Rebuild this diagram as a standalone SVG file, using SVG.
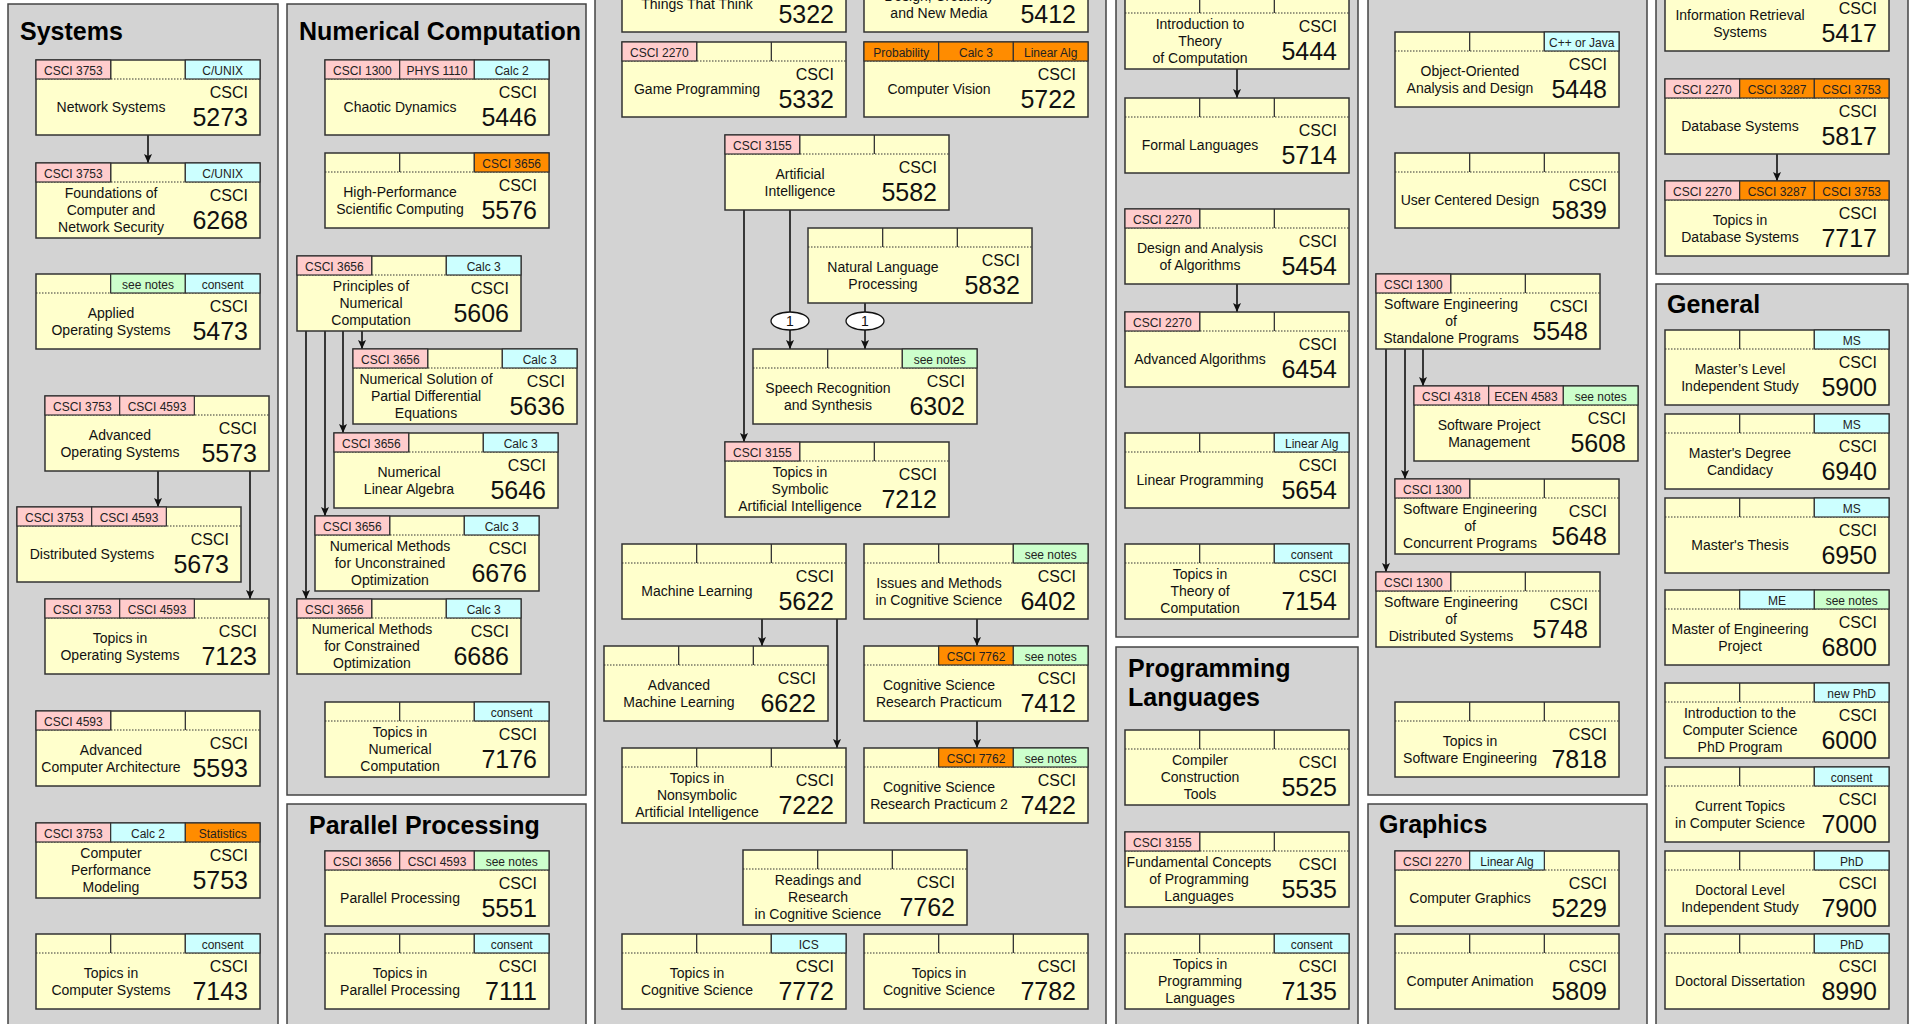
<svg xmlns="http://www.w3.org/2000/svg" xmlns:xlink="http://www.w3.org/1999/xlink" width="1909" height="1024" viewBox="0 0 1909 1024">
<style>
text{font-family:"Liberation Sans",Arial,sans-serif;fill:#111}
.pnl{fill:#d3d3d3;stroke:#444;stroke-width:1.5}
.bx{fill:#ffffcc;stroke:#333;stroke-width:1.5}
.dot{stroke:#333;stroke-width:1;stroke-dasharray:1.5 1.5}
.dv{stroke:#333;stroke-width:1.3}
.pk{fill:#ffcccc;stroke:#333;stroke-width:1.2}
.cy{fill:#ccffff;stroke:#333;stroke-width:1.2}
.gr{fill:#ccffcc;stroke:#333;stroke-width:1.2}
.or{fill:#ff8c00;stroke:#333;stroke-width:1.2}
.h{font-size:12px;text-anchor:middle;fill:#222}
.t{font-size:14px;text-anchor:middle}
.c{font-size:16px;text-anchor:end}
.n{font-size:25px;text-anchor:end}
.pt{font-size:25px;font-weight:bold;fill:#000}
.e{stroke:#111;stroke-width:1.6;fill:none}
.lb{fill:#fff;stroke:#111;stroke-width:1.3}
.lt{font-size:14px;text-anchor:middle}
</style>
<defs>
<marker id="ah" markerUnits="userSpaceOnUse" markerWidth="9" markerHeight="8" refX="9" refY="4" orient="auto">
<path d="M0,0 L9,4 L0,8 L2,4 z" fill="#111"/>
</marker>
<g id="box">
<rect width="224" height="75" class="bx"/>
<line x1="0" y1="19" x2="224" y2="19" class="dot"/>
<line x1="74.67" y1="0" x2="74.67" y2="19" class="dv"/>
<line x1="149.33" y1="0" x2="149.33" y2="19" class="dv"/>
</g>
</defs>
<rect width="1909" height="1024" fill="#fff"/>

<g id="panels">
<rect class="pnl" x="8" y="4" width="270" height="1030"/>
<rect class="pnl" x="287" y="4" width="299" height="791"/>
<rect class="pnl" x="287" y="804" width="299" height="230"/>
<rect class="pnl" x="595" y="-10" width="511" height="1044"/>
<rect class="pnl" x="1116" y="-10" width="242" height="647"/>
<rect class="pnl" x="1116" y="647" width="242" height="387"/>
<rect class="pnl" x="1368" y="-10" width="279" height="805"/>
<rect class="pnl" x="1368" y="804" width="279" height="230"/>
<rect class="pnl" x="1656" y="-10" width="252" height="284"/>
<rect class="pnl" x="1656" y="284" width="252" height="750"/>
<text class="pt" x="20" y="40">Systems</text>
<text class="pt" x="299" y="40">Numerical Computation</text>
<text class="pt" x="309" y="834">Parallel Processing</text>
<text class="pt" x="1128" y="677">Programming</text>
<text class="pt" x="1128" y="706">Languages</text>
<text class="pt" x="1379" y="833">Graphics</text>
<text class="pt" x="1667" y="313">General</text>
</g>

<g id="connectors">
<line class="e" x1="148" y1="135" x2="148" y2="163" marker-end="url(#ah)"/>
<line class="e" x1="158" y1="470" x2="158" y2="507" marker-end="url(#ah)"/>
<line class="e" x1="250" y1="470" x2="250" y2="599" marker-end="url(#ah)"/>
<line class="e" x1="362" y1="330" x2="362" y2="349" marker-end="url(#ah)"/>
<line class="e" x1="343" y1="330" x2="343" y2="433" marker-end="url(#ah)"/>
<line class="e" x1="325" y1="330" x2="325" y2="516" marker-end="url(#ah)"/>
<line class="e" x1="306" y1="330" x2="306" y2="599" marker-end="url(#ah)"/>
<line class="e" x1="744" y1="209" x2="744" y2="442" marker-end="url(#ah)"/>
<line class="e" x1="790" y1="209" x2="790" y2="349" marker-end="url(#ah)"/>
<line class="e" x1="865" y1="302" x2="865" y2="349" marker-end="url(#ah)"/>
<ellipse class="lb" cx="790" cy="321" rx="19" ry="9"/>
<text class="lt" x="790" y="326">1</text>
<ellipse class="lb" cx="865" cy="321" rx="19" ry="9"/>
<text class="lt" x="865" y="326">1</text>
<line class="e" x1="762" y1="618" x2="762" y2="646" marker-end="url(#ah)"/>
<line class="e" x1="837" y1="618" x2="837" y2="748" marker-end="url(#ah)"/>
<line class="e" x1="977" y1="618" x2="977" y2="646" marker-end="url(#ah)"/>
<line class="e" x1="977" y1="721" x2="977" y2="748" marker-end="url(#ah)"/>
<line class="e" x1="1237" y1="69" x2="1237" y2="98" marker-end="url(#ah)"/>
<line class="e" x1="1237" y1="284" x2="1237" y2="312" marker-end="url(#ah)"/>
<line class="e" x1="1423" y1="349" x2="1423" y2="386" marker-end="url(#ah)"/>
<line class="e" x1="1405" y1="349" x2="1405" y2="479" marker-end="url(#ah)"/>
<line class="e" x1="1386" y1="349" x2="1386" y2="572" marker-end="url(#ah)"/>
<line class="e" x1="1777" y1="153" x2="1777" y2="181" marker-end="url(#ah)"/>
</g>

<!-- Systems -->
<g id="n5273" transform="translate(36,60)"><use href="#box"/>
<rect class="pk" width="74.67" height="19"/><text class="h" x="37.33" y="15">CSCI 3753</text>
<rect class="cy" x="149.33" width="74.67" height="19"/><text class="h" x="186.67" y="15">C/UNIX</text>
<text class="t" x="75" y="52">Network Systems</text><text class="c" x="212" y="38">CSCI</text><text class="n" x="212" y="66">5273</text></g>
<g id="n6268" transform="translate(36,163)"><use href="#box"/>
<rect class="pk" width="74.67" height="19"/><text class="h" x="37.33" y="15">CSCI 3753</text>
<rect class="cy" x="149.33" width="74.67" height="19"/><text class="h" x="186.67" y="15">C/UNIX</text>
<text class="t" x="75" y="35">Foundations of</text><text class="t" x="75" y="52">Computer and</text><text class="t" x="75" y="69">Network Security</text><text class="c" x="212" y="38">CSCI</text><text class="n" x="212" y="66">6268</text></g>
<g id="n5473" transform="translate(36,274)"><use href="#box"/>
<rect class="gr" x="74.67" width="74.67" height="19"/><text class="h" x="112" y="15">see notes</text>
<rect class="cy" x="149.33" width="74.67" height="19"/><text class="h" x="186.67" y="15">consent</text>
<text class="t" x="75" y="43.5">Applied</text><text class="t" x="75" y="60.5">Operating Systems</text><text class="c" x="212" y="38">CSCI</text><text class="n" x="212" y="66">5473</text></g>
<g id="n5573" transform="translate(45,396)"><use href="#box"/>
<rect class="pk" width="74.67" height="19"/><text class="h" x="37.33" y="15">CSCI 3753</text>
<rect class="pk" x="74.67" width="74.67" height="19"/><text class="h" x="112" y="15">CSCI 4593</text>
<text class="t" x="75" y="43.5">Advanced</text><text class="t" x="75" y="60.5">Operating Systems</text><text class="c" x="212" y="38">CSCI</text><text class="n" x="212" y="66">5573</text></g>
<g id="n5673" transform="translate(17,507)"><use href="#box"/>
<rect class="pk" width="74.67" height="19"/><text class="h" x="37.33" y="15">CSCI 3753</text>
<rect class="pk" x="74.67" width="74.67" height="19"/><text class="h" x="112" y="15">CSCI 4593</text>
<text class="t" x="75" y="52">Distributed Systems</text><text class="c" x="212" y="38">CSCI</text><text class="n" x="212" y="66">5673</text></g>
<g id="n7123" transform="translate(45,599)"><use href="#box"/>
<rect class="pk" width="74.67" height="19"/><text class="h" x="37.33" y="15">CSCI 3753</text>
<rect class="pk" x="74.67" width="74.67" height="19"/><text class="h" x="112" y="15">CSCI 4593</text>
<text class="t" x="75" y="43.5">Topics in</text><text class="t" x="75" y="60.5">Operating Systems</text><text class="c" x="212" y="38">CSCI</text><text class="n" x="212" y="66">7123</text></g>
<g id="n5593" transform="translate(36,711)"><use href="#box"/>
<rect class="pk" width="74.67" height="19"/><text class="h" x="37.33" y="15">CSCI 4593</text>
<text class="t" x="75" y="43.5">Advanced</text><text class="t" x="75" y="60.5">Computer Architecture</text><text class="c" x="212" y="38">CSCI</text><text class="n" x="212" y="66">5593</text></g>
<g id="n5753" transform="translate(36,823)"><use href="#box"/>
<rect class="pk" width="74.67" height="19"/><text class="h" x="37.33" y="15">CSCI 3753</text>
<rect class="cy" x="74.67" width="74.67" height="19"/><text class="h" x="112" y="15">Calc 2</text>
<rect class="or" x="149.33" width="74.67" height="19"/><text class="h" x="186.67" y="15">Statistics</text>
<text class="t" x="75" y="35">Computer</text><text class="t" x="75" y="52">Performance</text><text class="t" x="75" y="69">Modeling</text><text class="c" x="212" y="38">CSCI</text><text class="n" x="212" y="66">5753</text></g>
<g id="n7143" transform="translate(36,934)"><use href="#box"/>
<rect class="cy" x="149.33" width="74.67" height="19"/><text class="h" x="186.67" y="15">consent</text>
<text class="t" x="75" y="43.5">Topics in</text><text class="t" x="75" y="60.5">Computer Systems</text><text class="c" x="212" y="38">CSCI</text><text class="n" x="212" y="66">7143</text></g>

<!-- Numerical Computation -->
<g id="n5446" transform="translate(325,60)"><use href="#box"/>
<rect class="pk" width="74.67" height="19"/><text class="h" x="37.33" y="15">CSCI 1300</text>
<rect class="pk" x="74.67" width="74.67" height="19"/><text class="h" x="112" y="15">PHYS 1110</text>
<rect class="cy" x="149.33" width="74.67" height="19"/><text class="h" x="186.67" y="15">Calc 2</text>
<text class="t" x="75" y="52">Chaotic Dynamics</text><text class="c" x="212" y="38">CSCI</text><text class="n" x="212" y="66">5446</text></g>
<g id="n5576" transform="translate(325,153)"><use href="#box"/>
<rect class="or" x="149.33" width="74.67" height="19"/><text class="h" x="186.67" y="15">CSCI 3656</text>
<text class="t" x="75" y="43.5">High-Performance</text><text class="t" x="75" y="60.5">Scientific Computing</text><text class="c" x="212" y="38">CSCI</text><text class="n" x="212" y="66">5576</text></g>
<g id="n5606" transform="translate(297,256)"><use href="#box"/>
<rect class="pk" width="74.67" height="19"/><text class="h" x="37.33" y="15">CSCI 3656</text>
<rect class="cy" x="149.33" width="74.67" height="19"/><text class="h" x="186.67" y="15">Calc 3</text>
<text class="t" x="74" y="35">Principles of</text><text class="t" x="74" y="52">Numerical</text><text class="t" x="74" y="69">Computation</text><text class="c" x="212" y="38">CSCI</text><text class="n" x="212" y="66">5606</text></g>
<g id="n5636" transform="translate(353,349)"><use href="#box"/>
<rect class="pk" width="74.67" height="19"/><text class="h" x="37.33" y="15">CSCI 3656</text>
<rect class="cy" x="149.33" width="74.67" height="19"/><text class="h" x="186.67" y="15">Calc 3</text>
<text class="t" x="73" y="35">Numerical Solution of</text><text class="t" x="73" y="52">Partial Differential</text><text class="t" x="73" y="69">Equations</text><text class="c" x="212" y="38">CSCI</text><text class="n" x="212" y="66">5636</text></g>
<g id="n5646" transform="translate(334,433)"><use href="#box"/>
<rect class="pk" width="74.67" height="19"/><text class="h" x="37.33" y="15">CSCI 3656</text>
<rect class="cy" x="149.33" width="74.67" height="19"/><text class="h" x="186.67" y="15">Calc 3</text>
<text class="t" x="75" y="43.5">Numerical</text><text class="t" x="75" y="60.5">Linear Algebra</text><text class="c" x="212" y="38">CSCI</text><text class="n" x="212" y="66">5646</text></g>
<g id="n6676" transform="translate(315,516)"><use href="#box"/>
<rect class="pk" width="74.67" height="19"/><text class="h" x="37.33" y="15">CSCI 3656</text>
<rect class="cy" x="149.33" width="74.67" height="19"/><text class="h" x="186.67" y="15">Calc 3</text>
<text class="t" x="75" y="35">Numerical Methods</text><text class="t" x="75" y="52">for Unconstrained</text><text class="t" x="75" y="69">Optimization</text><text class="c" x="212" y="38">CSCI</text><text class="n" x="212" y="66">6676</text></g>
<g id="n6686" transform="translate(297,599)"><use href="#box"/>
<rect class="pk" width="74.67" height="19"/><text class="h" x="37.33" y="15">CSCI 3656</text>
<rect class="cy" x="149.33" width="74.67" height="19"/><text class="h" x="186.67" y="15">Calc 3</text>
<text class="t" x="75" y="35">Numerical Methods</text><text class="t" x="75" y="52">for Constrained</text><text class="t" x="75" y="69">Optimization</text><text class="c" x="212" y="38">CSCI</text><text class="n" x="212" y="66">6686</text></g>
<g id="n7176" transform="translate(325,702)"><use href="#box"/>
<rect class="cy" x="149.33" width="74.67" height="19"/><text class="h" x="186.67" y="15">consent</text>
<text class="t" x="75" y="35">Topics in</text><text class="t" x="75" y="52">Numerical</text><text class="t" x="75" y="69">Computation</text><text class="c" x="212" y="38">CSCI</text><text class="n" x="212" y="66">7176</text></g>

<!-- Parallel Processing -->
<g id="n5551" transform="translate(325,851)"><use href="#box"/>
<rect class="pk" width="74.67" height="19"/><text class="h" x="37.33" y="15">CSCI 3656</text>
<rect class="pk" x="74.67" width="74.67" height="19"/><text class="h" x="112" y="15">CSCI 4593</text>
<rect class="gr" x="149.33" width="74.67" height="19"/><text class="h" x="186.67" y="15">see notes</text>
<text class="t" x="75" y="52">Parallel Processing</text><text class="c" x="212" y="38">CSCI</text><text class="n" x="212" y="66">5551</text></g>
<g id="n7111" transform="translate(325,934)"><use href="#box"/>
<rect class="cy" x="149.33" width="74.67" height="19"/><text class="h" x="186.67" y="15">consent</text>
<text class="t" x="75" y="43.5">Topics in</text><text class="t" x="75" y="60.5">Parallel Processing</text><text class="c" x="212" y="38">CSCI</text><text class="n" x="212" y="66">7111</text></g>

<!-- Middle column -->
<g id="n5322" transform="translate(622,-43)"><use href="#box"/>
<text class="t" x="75" y="52">Things That Think</text><text class="n" x="212" y="66">5322</text></g>
<g id="n5412" transform="translate(864,-43)"><use href="#box"/>
<text class="t" x="75" y="43.5">Design, Creativity</text><text class="t" x="75" y="60.5">and New Media</text><text class="n" x="212" y="66">5412</text></g>
<g id="n5332" transform="translate(622,42)"><use href="#box"/>
<rect class="pk" width="74.67" height="19"/><text class="h" x="37.33" y="15">CSCI 2270</text>
<text class="t" x="75" y="52">Game Programming</text><text class="c" x="212" y="38">CSCI</text><text class="n" x="212" y="66">5332</text></g>
<g id="n5722" transform="translate(864,42)"><use href="#box"/>
<rect class="or" width="74.67" height="19"/><text class="h" x="37.33" y="15">Probability</text>
<rect class="or" x="74.67" width="74.67" height="19"/><text class="h" x="112" y="15">Calc 3</text>
<rect class="or" x="149.33" width="74.67" height="19"/><text class="h" x="186.67" y="15">Linear Alg</text>
<text class="t" x="75" y="52">Computer Vision</text><text class="c" x="212" y="38">CSCI</text><text class="n" x="212" y="66">5722</text></g>
<g id="n5582" transform="translate(725,135)"><use href="#box"/>
<rect class="pk" width="74.67" height="19"/><text class="h" x="37.33" y="15">CSCI 3155</text>
<text class="t" x="75" y="43.5">Artificial</text><text class="t" x="75" y="60.5">Intelligence</text><text class="c" x="212" y="38">CSCI</text><text class="n" x="212" y="66">5582</text></g>
<g id="n5832" transform="translate(808,228)"><use href="#box"/>
<text class="t" x="75" y="43.5">Natural Language</text><text class="t" x="75" y="60.5">Processing</text><text class="c" x="212" y="38">CSCI</text><text class="n" x="212" y="66">5832</text></g>
<g id="n6302" transform="translate(753,349)"><use href="#box"/>
<rect class="gr" x="149.33" width="74.67" height="19"/><text class="h" x="186.67" y="15">see notes</text>
<text class="t" x="75" y="43.5">Speech Recognition</text><text class="t" x="75" y="60.5">and Synthesis</text><text class="c" x="212" y="38">CSCI</text><text class="n" x="212" y="66">6302</text></g>
<g id="n7212" transform="translate(725,442)"><use href="#box"/>
<rect class="pk" width="74.67" height="19"/><text class="h" x="37.33" y="15">CSCI 3155</text>
<text class="t" x="75" y="35">Topics in</text><text class="t" x="75" y="52">Symbolic</text><text class="t" x="75" y="69">Artificial Intelligence</text><text class="c" x="212" y="38">CSCI</text><text class="n" x="212" y="66">7212</text></g>
<g id="n5622" transform="translate(622,544)"><use href="#box"/>
<text class="t" x="75" y="52">Machine Learning</text><text class="c" x="212" y="38">CSCI</text><text class="n" x="212" y="66">5622</text></g>
<g id="n6402" transform="translate(864,544)"><use href="#box"/>
<rect class="gr" x="149.33" width="74.67" height="19"/><text class="h" x="186.67" y="15">see notes</text>
<text class="t" x="75" y="43.5">Issues and Methods</text><text class="t" x="75" y="60.5">in Cognitive Science</text><text class="c" x="212" y="38">CSCI</text><text class="n" x="212" y="66">6402</text></g>
<g id="n6622" transform="translate(604,646)"><use href="#box"/>
<text class="t" x="75" y="43.5">Advanced</text><text class="t" x="75" y="60.5">Machine Learning</text><text class="c" x="212" y="38">CSCI</text><text class="n" x="212" y="66">6622</text></g>
<g id="n7412" transform="translate(864,646)"><use href="#box"/>
<rect class="or" x="74.67" width="74.67" height="19"/><text class="h" x="112" y="15">CSCI 7762</text>
<rect class="gr" x="149.33" width="74.67" height="19"/><text class="h" x="186.67" y="15">see notes</text>
<text class="t" x="75" y="43.5">Cognitive Science</text><text class="t" x="75" y="60.5">Research Practicum</text><text class="c" x="212" y="38">CSCI</text><text class="n" x="212" y="66">7412</text></g>
<g id="n7222" transform="translate(622,748)"><use href="#box"/>
<text class="t" x="75" y="35">Topics in</text><text class="t" x="75" y="52">Nonsymbolic</text><text class="t" x="75" y="69">Artificial Intelligence</text><text class="c" x="212" y="38">CSCI</text><text class="n" x="212" y="66">7222</text></g>
<g id="n7422" transform="translate(864,748)"><use href="#box"/>
<rect class="or" x="74.67" width="74.67" height="19"/><text class="h" x="112" y="15">CSCI 7762</text>
<rect class="gr" x="149.33" width="74.67" height="19"/><text class="h" x="186.67" y="15">see notes</text>
<text class="t" x="75" y="43.5">Cognitive Science</text><text class="t" x="75" y="60.5">Research Practicum 2</text><text class="c" x="212" y="38">CSCI</text><text class="n" x="212" y="66">7422</text></g>
<g id="n7762" transform="translate(743,850)"><use href="#box"/>
<text class="t" x="75" y="35">Readings and</text><text class="t" x="75" y="52">Research</text><text class="t" x="75" y="69">in Cognitive Science</text><text class="c" x="212" y="38">CSCI</text><text class="n" x="212" y="66">7762</text></g>
<g id="n7772" transform="translate(622,934)"><use href="#box"/>
<rect class="cy" x="149.33" width="74.67" height="19"/><text class="h" x="186.67" y="15">ICS</text>
<text class="t" x="75" y="43.5">Topics in</text><text class="t" x="75" y="60.5">Cognitive Science</text><text class="c" x="212" y="38">CSCI</text><text class="n" x="212" y="66">7772</text></g>
<g id="n7782" transform="translate(864,934)"><use href="#box"/>
<text class="t" x="75" y="43.5">Topics in</text><text class="t" x="75" y="60.5">Cognitive Science</text><text class="c" x="212" y="38">CSCI</text><text class="n" x="212" y="66">7782</text></g>

<!-- Theory -->
<g id="n5444" transform="translate(1125,-6)"><use href="#box"/>
<text class="t" x="75" y="35">Introduction to</text><text class="t" x="75" y="52">Theory</text><text class="t" x="75" y="69">of Computation</text><text class="c" x="212" y="38">CSCI</text><text class="n" x="212" y="66">5444</text></g>
<g id="n5714" transform="translate(1125,98)"><use href="#box"/>
<text class="t" x="75" y="52">Formal Languages</text><text class="c" x="212" y="38">CSCI</text><text class="n" x="212" y="66">5714</text></g>
<g id="n5454" transform="translate(1125,209)"><use href="#box"/>
<rect class="pk" width="74.67" height="19"/><text class="h" x="37.33" y="15">CSCI 2270</text>
<text class="t" x="75" y="43.5">Design and Analysis</text><text class="t" x="75" y="60.5">of Algorithms</text><text class="c" x="212" y="38">CSCI</text><text class="n" x="212" y="66">5454</text></g>
<g id="n6454" transform="translate(1125,312)"><use href="#box"/>
<rect class="pk" width="74.67" height="19"/><text class="h" x="37.33" y="15">CSCI 2270</text>
<text class="t" x="75" y="52">Advanced Algorithms</text><text class="c" x="212" y="38">CSCI</text><text class="n" x="212" y="66">6454</text></g>
<g id="n5654" transform="translate(1125,433)"><use href="#box"/>
<rect class="cy" x="149.33" width="74.67" height="19"/><text class="h" x="186.67" y="15">Linear Alg</text>
<text class="t" x="75" y="52">Linear Programming</text><text class="c" x="212" y="38">CSCI</text><text class="n" x="212" y="66">5654</text></g>
<g id="n7154" transform="translate(1125,544)"><use href="#box"/>
<rect class="cy" x="149.33" width="74.67" height="19"/><text class="h" x="186.67" y="15">consent</text>
<text class="t" x="75" y="35">Topics in</text><text class="t" x="75" y="52">Theory of</text><text class="t" x="75" y="69">Computation</text><text class="c" x="212" y="38">CSCI</text><text class="n" x="212" y="66">7154</text></g>

<!-- Programming Languages -->
<g id="n5525" transform="translate(1125,730)"><use href="#box"/>
<text class="t" x="75" y="35">Compiler</text><text class="t" x="75" y="52">Construction</text><text class="t" x="75" y="69">Tools</text><text class="c" x="212" y="38">CSCI</text><text class="n" x="212" y="66">5525</text></g>
<g id="n5535" transform="translate(1125,832)"><use href="#box"/>
<rect class="pk" width="74.67" height="19"/><text class="h" x="37.33" y="15">CSCI 3155</text>
<text class="t" x="74" y="35">Fundamental Concepts</text><text class="t" x="74" y="52">of Programming</text><text class="t" x="74" y="69">Languages</text><text class="c" x="212" y="38">CSCI</text><text class="n" x="212" y="66">5535</text></g>
<g id="n7135" transform="translate(1125,934)"><use href="#box"/>
<rect class="cy" x="149.33" width="74.67" height="19"/><text class="h" x="186.67" y="15">consent</text>
<text class="t" x="75" y="35">Topics in</text><text class="t" x="75" y="52">Programming</text><text class="t" x="75" y="69">Languages</text><text class="c" x="212" y="38">CSCI</text><text class="n" x="212" y="66">7135</text></g>

<!-- Software Engineering -->
<g id="n5448" transform="translate(1395,32)"><use href="#box"/>
<rect class="cy" x="149.33" width="74.67" height="19"/><text class="h" x="186.67" y="15">C++ or Java</text>
<text class="t" x="75" y="43.5">Object-Oriented</text><text class="t" x="75" y="60.5">Analysis and Design</text><text class="c" x="212" y="38">CSCI</text><text class="n" x="212" y="66">5448</text></g>
<g id="n5839" transform="translate(1395,153)"><use href="#box"/>
<text class="t" x="75" y="52">User Centered Design</text><text class="c" x="212" y="38">CSCI</text><text class="n" x="212" y="66">5839</text></g>
<g id="n5548" transform="translate(1376,274)"><use href="#box"/>
<rect class="pk" width="74.67" height="19"/><text class="h" x="37.33" y="15">CSCI 1300</text>
<text class="t" x="75" y="35">Software Engineering</text><text class="t" x="75" y="52">of</text><text class="t" x="75" y="69">Standalone Programs</text><text class="c" x="212" y="38">CSCI</text><text class="n" x="212" y="66">5548</text></g>
<g id="n5608" transform="translate(1414,386)"><use href="#box"/>
<rect class="pk" width="74.67" height="19"/><text class="h" x="37.33" y="15">CSCI 4318</text>
<rect class="pk" x="74.67" width="74.67" height="19"/><text class="h" x="112" y="15">ECEN 4583</text>
<rect class="gr" x="149.33" width="74.67" height="19"/><text class="h" x="186.67" y="15">see notes</text>
<text class="t" x="75" y="43.5">Software Project</text><text class="t" x="75" y="60.5">Management</text><text class="c" x="212" y="38">CSCI</text><text class="n" x="212" y="66">5608</text></g>
<g id="n5648" transform="translate(1395,479)"><use href="#box"/>
<rect class="pk" width="74.67" height="19"/><text class="h" x="37.33" y="15">CSCI 1300</text>
<text class="t" x="75" y="35">Software Engineering</text><text class="t" x="75" y="52">of</text><text class="t" x="75" y="69">Concurrent Programs</text><text class="c" x="212" y="38">CSCI</text><text class="n" x="212" y="66">5648</text></g>
<g id="n5748" transform="translate(1376,572)"><use href="#box"/>
<rect class="pk" width="74.67" height="19"/><text class="h" x="37.33" y="15">CSCI 1300</text>
<text class="t" x="75" y="35">Software Engineering</text><text class="t" x="75" y="52">of</text><text class="t" x="75" y="69">Distributed Systems</text><text class="c" x="212" y="38">CSCI</text><text class="n" x="212" y="66">5748</text></g>
<g id="n7818" transform="translate(1395,702)"><use href="#box"/>
<text class="t" x="75" y="43.5">Topics in</text><text class="t" x="75" y="60.5">Software Engineering</text><text class="c" x="212" y="38">CSCI</text><text class="n" x="212" y="66">7818</text></g>

<!-- Graphics -->
<g id="n5229" transform="translate(1395,851)"><use href="#box"/>
<rect class="pk" width="74.67" height="19"/><text class="h" x="37.33" y="15">CSCI 2270</text>
<rect class="cy" x="74.67" width="74.67" height="19"/><text class="h" x="112" y="15">Linear Alg</text>
<text class="t" x="75" y="52">Computer Graphics</text><text class="c" x="212" y="38">CSCI</text><text class="n" x="212" y="66">5229</text></g>
<g id="n5809" transform="translate(1395,934)"><use href="#box"/>
<text class="t" x="75" y="52">Computer Animation</text><text class="c" x="212" y="38">CSCI</text><text class="n" x="212" y="66">5809</text></g>

<!-- Information / Databases -->
<g id="n5417" transform="translate(1665,-24)"><use href="#box"/>
<text class="t" x="75" y="43.5">Information Retrieval</text><text class="t" x="75" y="60.5">Systems</text><text class="c" x="212" y="38">CSCI</text><text class="n" x="212" y="66">5417</text></g>
<g id="n5817" transform="translate(1665,79)"><use href="#box"/>
<rect class="pk" width="74.67" height="19"/><text class="h" x="37.33" y="15">CSCI 2270</text>
<rect class="or" x="74.67" width="74.67" height="19"/><text class="h" x="112" y="15">CSCI 3287</text>
<rect class="or" x="149.33" width="74.67" height="19"/><text class="h" x="186.67" y="15">CSCI 3753</text>
<text class="t" x="75" y="52">Database Systems</text><text class="c" x="212" y="38">CSCI</text><text class="n" x="212" y="66">5817</text></g>
<g id="n7717" transform="translate(1665,181)"><use href="#box"/>
<rect class="pk" width="74.67" height="19"/><text class="h" x="37.33" y="15">CSCI 2270</text>
<rect class="or" x="74.67" width="74.67" height="19"/><text class="h" x="112" y="15">CSCI 3287</text>
<rect class="or" x="149.33" width="74.67" height="19"/><text class="h" x="186.67" y="15">CSCI 3753</text>
<text class="t" x="75" y="43.5">Topics in</text><text class="t" x="75" y="60.5">Database Systems</text><text class="c" x="212" y="38">CSCI</text><text class="n" x="212" y="66">7717</text></g>

<!-- General -->
<g id="n5900" transform="translate(1665,330)"><use href="#box"/>
<rect class="cy" x="149.33" width="74.67" height="19"/><text class="h" x="186.67" y="15">MS</text>
<text class="t" x="75" y="43.5">Master’s Level</text><text class="t" x="75" y="60.5">Independent Study</text><text class="c" x="212" y="38">CSCI</text><text class="n" x="212" y="66">5900</text></g>
<g id="n6940" transform="translate(1665,414)"><use href="#box"/>
<rect class="cy" x="149.33" width="74.67" height="19"/><text class="h" x="186.67" y="15">MS</text>
<text class="t" x="75" y="43.5">Master's Degree</text><text class="t" x="75" y="60.5">Candidacy</text><text class="c" x="212" y="38">CSCI</text><text class="n" x="212" y="66">6940</text></g>
<g id="n6950" transform="translate(1665,498)"><use href="#box"/>
<rect class="cy" x="149.33" width="74.67" height="19"/><text class="h" x="186.67" y="15">MS</text>
<text class="t" x="75" y="52">Master's Thesis</text><text class="c" x="212" y="38">CSCI</text><text class="n" x="212" y="66">6950</text></g>
<g id="n6800" transform="translate(1665,590)"><use href="#box"/>
<rect class="cy" x="74.67" width="74.67" height="19"/><text class="h" x="112" y="15">ME</text>
<rect class="gr" x="149.33" width="74.67" height="19"/><text class="h" x="186.67" y="15">see notes</text>
<text class="t" x="75" y="43.5">Master of Engineering</text><text class="t" x="75" y="60.5">Project</text><text class="c" x="212" y="38">CSCI</text><text class="n" x="212" y="66">6800</text></g>
<g id="n6000" transform="translate(1665,683)"><use href="#box"/>
<rect class="cy" x="149.33" width="74.67" height="19"/><text class="h" x="186.67" y="15">new PhD</text>
<text class="t" x="75" y="35">Introduction to the</text><text class="t" x="75" y="52">Computer Science</text><text class="t" x="75" y="69">PhD Program</text><text class="c" x="212" y="38">CSCI</text><text class="n" x="212" y="66">6000</text></g>
<g id="n7000" transform="translate(1665,767)"><use href="#box"/>
<rect class="cy" x="149.33" width="74.67" height="19"/><text class="h" x="186.67" y="15">consent</text>
<text class="t" x="75" y="43.5">Current Topics</text><text class="t" x="75" y="60.5">in Computer Science</text><text class="c" x="212" y="38">CSCI</text><text class="n" x="212" y="66">7000</text></g>
<g id="n7900" transform="translate(1665,851)"><use href="#box"/>
<rect class="cy" x="149.33" width="74.67" height="19"/><text class="h" x="186.67" y="15">PhD</text>
<text class="t" x="75" y="43.5">Doctoral Level</text><text class="t" x="75" y="60.5">Independent Study</text><text class="c" x="212" y="38">CSCI</text><text class="n" x="212" y="66">7900</text></g>
<g id="n8990" transform="translate(1665,934)"><use href="#box"/>
<rect class="cy" x="149.33" width="74.67" height="19"/><text class="h" x="186.67" y="15">PhD</text>
<text class="t" x="75" y="52">Doctoral Dissertation</text><text class="c" x="212" y="38">CSCI</text><text class="n" x="212" y="66">8990</text></g>
</svg>
